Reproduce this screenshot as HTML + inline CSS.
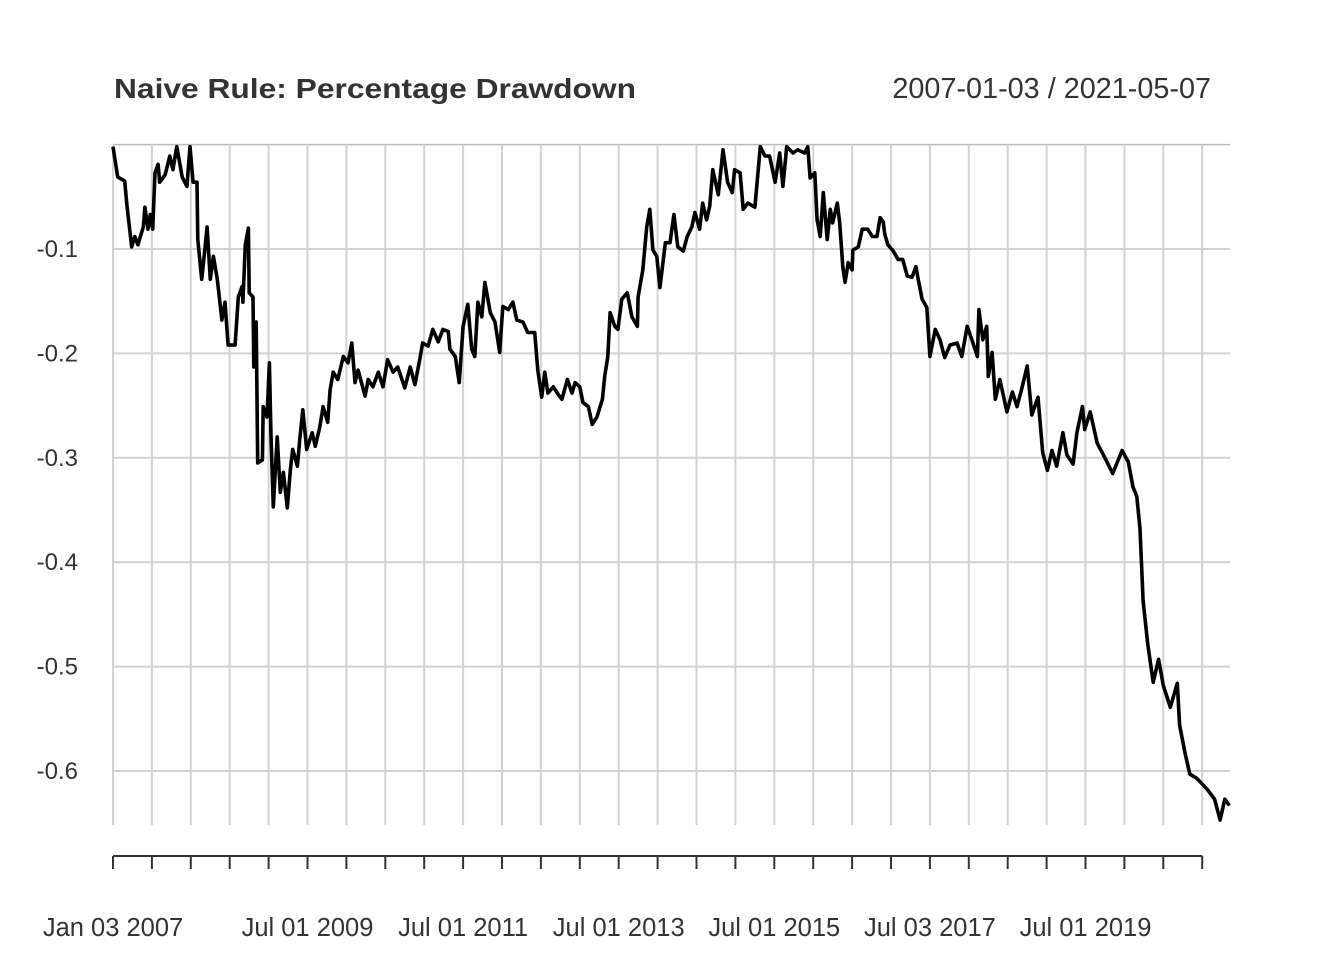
<!DOCTYPE html>
<html><head><meta charset="utf-8"><style>
html,body{margin:0;padding:0;background:#fff;}
svg{display:block;}
text{font-family:"Liberation Sans",Arial,sans-serif;fill:#333;}
</style></head><body>
<svg id="chart" width="1344" height="960" xmlns="http://www.w3.org/2000/svg">
<text x="114" y="98" font-size="28" font-weight="bold" textLength="522" lengthAdjust="spacingAndGlyphs">Naive Rule: Percentage Drawdown</text>
<text x="1211" y="98" font-size="28.8" text-anchor="end">2007-01-03 / 2021-05-07</text>
<g id="grid"></g>
<g id="yaxis"></g>
<g id="xaxis"></g>
<g id="series"></g>
</svg>
<script>
const dates=[2007.00,2007.06,2007.15,2007.18,2007.24,2007.28,2007.32,2007.39,2007.41,2007.45,2007.48,2007.51,2007.54,2007.58,2007.60,2007.67,2007.73,2007.77,2007.82,2007.89,2007.95,2007.99,2008.03,2008.08,2008.09,2008.14,2008.18,2008.21,2008.25,2008.29,2008.34,2008.40,2008.44,2008.48,2008.57,2008.61,2008.66,2008.67,2008.70,2008.74,2008.75,2008.80,2008.81,2008.84,2008.86,2008.92,2008.93,2008.98,2009.01,2009.03,2009.06,2009.11,2009.15,2009.19,2009.24,2009.28,2009.31,2009.37,2009.40,2009.44,2009.49,2009.56,2009.60,2009.66,2009.70,2009.76,2009.79,2009.83,2009.89,2009.96,2010.02,2010.07,2010.11,2010.15,2010.24,2010.28,2010.34,2010.41,2010.47,2010.53,2010.60,2010.66,2010.75,2010.82,2010.88,2010.95,2010.98,2011.05,2011.11,2011.18,2011.24,2011.31,2011.33,2011.40,2011.45,2011.50,2011.56,2011.61,2011.65,2011.69,2011.74,2011.78,2011.85,2011.91,2011.97,2012.01,2012.08,2012.14,2012.19,2012.27,2012.33,2012.42,2012.46,2012.51,2012.55,2012.59,2012.66,2012.72,2012.77,2012.84,2012.90,2012.94,2013.00,2013.04,2013.11,2013.16,2013.22,2013.29,2013.32,2013.36,2013.39,2013.45,2013.49,2013.54,2013.61,2013.67,2013.74,2013.75,2013.81,2013.86,2013.90,2013.94,2013.99,2014.03,2014.10,2014.16,2014.21,2014.26,2014.33,2014.38,2014.44,2014.48,2014.54,2014.58,2014.63,2014.67,2014.71,2014.78,2014.84,2014.90,2014.96,2014.99,2015.06,2015.10,2015.16,2015.25,2015.32,2015.38,2015.44,2015.51,2015.57,2015.61,2015.66,2015.74,2015.80,2015.89,2015.93,2015.96,2016.02,2016.05,2016.09,2016.13,2016.18,2016.22,2016.25,2016.31,2016.34,2016.38,2016.41,2016.45,2016.50,2016.51,2016.58,2016.63,2016.70,2016.76,2016.82,2016.86,2016.90,2016.92,2016.96,2017.03,2017.09,2017.15,2017.21,2017.27,2017.32,2017.35,2017.40,2017.46,2017.50,2017.57,2017.63,2017.69,2017.76,2017.85,2017.91,2017.98,2018.04,2018.11,2018.13,2018.18,2018.23,2018.25,2018.30,2018.34,2018.40,2018.49,2018.56,2018.62,2018.68,2018.75,2018.81,2018.89,2018.95,2019.01,2019.07,2019.13,2019.21,2019.26,2019.34,2019.39,2019.46,2019.49,2019.56,2019.65,2019.75,2019.85,2019.97,2020.05,2020.11,2020.16,2020.20,2020.24,2020.30,2020.37,2020.44,2020.50,2020.59,2020.68,2020.71,2020.78,2020.84,2020.93,2021.07,2021.16,2021.23,2021.29,2021.35];
const drawdown=[-0.002,-0.031,-0.035,-0.059,-0.098,-0.088,-0.096,-0.079,-0.060,-0.081,-0.067,-0.081,-0.027,-0.019,-0.036,-0.029,-0.011,-0.024,-0.002,-0.031,-0.040,-0.002,-0.036,-0.036,-0.091,-0.129,-0.101,-0.079,-0.129,-0.107,-0.129,-0.168,-0.151,-0.192,-0.192,-0.146,-0.136,-0.151,-0.096,-0.080,-0.142,-0.146,-0.213,-0.170,-0.305,-0.302,-0.251,-0.261,-0.209,-0.276,-0.347,-0.280,-0.333,-0.314,-0.348,-0.311,-0.292,-0.308,-0.283,-0.254,-0.292,-0.276,-0.289,-0.270,-0.251,-0.266,-0.235,-0.218,-0.225,-0.203,-0.209,-0.190,-0.228,-0.216,-0.241,-0.225,-0.232,-0.218,-0.232,-0.206,-0.218,-0.213,-0.233,-0.213,-0.230,-0.203,-0.190,-0.193,-0.177,-0.189,-0.177,-0.179,-0.196,-0.203,-0.228,-0.174,-0.153,-0.196,-0.203,-0.151,-0.165,-0.132,-0.161,-0.170,-0.199,-0.155,-0.158,-0.151,-0.168,-0.170,-0.180,-0.180,-0.216,-0.242,-0.218,-0.238,-0.232,-0.239,-0.244,-0.225,-0.238,-0.228,-0.232,-0.247,-0.251,-0.268,-0.261,-0.244,-0.222,-0.203,-0.161,-0.174,-0.177,-0.148,-0.142,-0.165,-0.174,-0.146,-0.120,-0.079,-0.062,-0.101,-0.107,-0.137,-0.094,-0.094,-0.067,-0.098,-0.102,-0.088,-0.079,-0.065,-0.081,-0.056,-0.072,-0.059,-0.024,-0.048,-0.005,-0.036,-0.046,-0.024,-0.027,-0.062,-0.056,-0.060,-0.002,-0.011,-0.011,-0.036,-0.008,-0.040,-0.002,-0.008,-0.005,-0.008,-0.002,-0.032,-0.027,-0.072,-0.088,-0.046,-0.091,-0.062,-0.075,-0.056,-0.075,-0.117,-0.132,-0.113,-0.120,-0.101,-0.098,-0.081,-0.081,-0.088,-0.088,-0.070,-0.074,-0.086,-0.096,-0.102,-0.110,-0.110,-0.126,-0.127,-0.117,-0.129,-0.148,-0.156,-0.203,-0.177,-0.187,-0.204,-0.192,-0.190,-0.203,-0.174,-0.187,-0.203,-0.158,-0.187,-0.174,-0.222,-0.199,-0.244,-0.225,-0.256,-0.237,-0.251,-0.234,-0.212,-0.259,-0.242,-0.295,-0.312,-0.293,-0.308,-0.276,-0.297,-0.306,-0.276,-0.251,-0.273,-0.256,-0.286,-0.300,-0.315,-0.293,-0.304,-0.328,-0.337,-0.368,-0.437,-0.478,-0.515,-0.493,-0.518,-0.539,-0.516,-0.556,-0.583,-0.603,-0.607,-0.618,-0.627,-0.647,-0.627,-0.633];
const yTicks=[-0.1,-0.2,-0.3,-0.4,-0.5,-0.6];
const yTickLabels=["-0.1","-0.2","-0.3","-0.4","-0.5","-0.6"];
const xLabelDates=[2007.0,2009.5,2011.5,2013.5,2015.5,2017.5,2019.5];
const xLabels=["Jan 03 2007","Jul 01 2009","Jul 01 2011","Jul 01 2013","Jul 01 2015","Jul 03 2017","Jul 01 2019"];

const NS="http://www.w3.org/2000/svg";
const L=113,R=1230,T=144.6,B=825;
const t0=2007.0,pxPerYear=77.8,pxPerUnit=1044;
function xScale(t){return L+(t-t0)*pxPerYear;}
function yScale(v){return T-v*pxPerUnit;}
function mk(tag,attrs,parent){const e=document.createElementNS(NS,tag);for(const k in attrs)e.setAttribute(k,attrs[k]);parent.appendChild(e);return e;}
const grid=document.getElementById('grid'),ya=document.getElementById('yaxis'),xa=document.getElementById('xaxis'),ser=document.getElementById('series');

let tb=mk('line',{x1:L,x2:R,y1:T,y2:T,stroke:'#bdbdbd','stroke-width':1.5},grid);



yTicks.forEach((v,i)=>{
  const y=yScale(v);
  const g=mk('line',{x1:L,x2:R,y1:y,y2:y,stroke:'#d3d3d3','stroke-width':2},grid);
  
  
  const t=mk('text',{x:78,y:y+8,'font-size':24,'text-anchor':'end'},ya);
  t.textContent=yTickLabels[i];
  
  
});

for(let k=0;k<=28;k++){
  const x=xScale(t0+k*0.5);
  const g=mk('line',{x1:x,x2:x,y1:T,y2:B,stroke:'#d3d3d3','stroke-width':2},grid);
  
  
  const tk=mk('line',{x1:x,x2:x,y1:856,y2:869,stroke:'#333','stroke-width':2},xa);
  
  
}
const axl=mk('line',{x1:L,x2:xScale(t0+14),y1:856,y2:856,stroke:'#333','stroke-width':2},xa);


xLabelDates.forEach((d,i)=>{
  const t=mk('text',{x:xScale(d),y:936,'font-size':25.5,'text-anchor':'middle'},xa);
  t.textContent=xLabels[i];
  
  
});

const pts=dates.map((d,i)=>xScale(d).toFixed(1)+','+yScale(drawdown[i]).toFixed(1)).join(' ');
const pl=mk('polyline',{points:pts,fill:'none',stroke:'#000','stroke-width':3.6,'stroke-linejoin':'round'},ser);


</script>
</body></html>
